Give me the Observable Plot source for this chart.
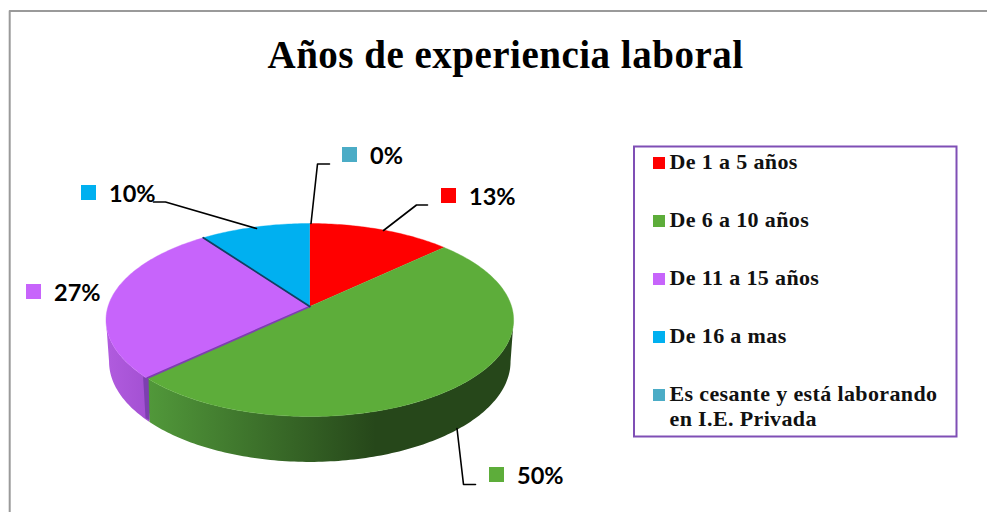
<!DOCTYPE html>
<html>
<head>
<meta charset="utf-8">
<style>html,body{margin:0;padding:0;background:#fff}svg{display:block}</style>
<script src="https://cdn.jsdelivr.net/npm/d3@7"></script>
<script src="https://cdn.jsdelivr.net/npm/@observablehq/plot@0.6"></script>
</head>
<body>
<script>
const categories = ["De 1 a 5 años", "De 6 a 10 años", "De 11 a 15 años", "De 16 a mas", "Es cesante y está laborando\nen I.E. Privada"];
const percents = [13, 50, 27, 10, 0];
const colors = ["#ff0000", "#5dad3a", "#c764fb", "#00b0f0", "#4bacc6"];
const percentLabels = ["13%", "50%", "27%", "10%", "0%"];

const W = 987, H = 512;
// pie projection
const cx = 309.3, cy = 306, rx = 201.8, ry = 94.6, persp = -0.14;
const rim = f => {
  const t = f * 2 * Math.PI, u = Math.sin(t), v = -Math.cos(t), d = 1 + persp * v;
  return [cx + rx * u / d, cy + ry * v / d];
};
const lowerRim = f => {
  const [x, y] = rim(f);
  return [cx + (x - cx) * 0.985, cy + (y - cy) * 1.04 + 41];
};
let acc = 0;
const slices = percents.map((p, i) => { const s = {i, start: acc / 100, end: (acc + p) / 100}; acc += p; return s; });

// top faces
const topPts = [];
for (const s of slices) {
  if (s.end <= s.start) continue;
  const n = Math.ceil((s.end - s.start) * 360);
  topPts.push({id: s.i, x: cx, y: cy, color: colors[s.i]});
  for (let k = 0; k <= n; k++) {
    const [x, y] = rim(s.start + (s.end - s.start) * k / n);
    topPts.push({id: s.i, x, y, color: colors[s.i]});
  }
}
// side walls: only the part facing the viewer, between the two silhouette points of the rim
const silhouette = Math.acos(persp) / (2 * Math.PI);
const sideWall = s => {
  const a = Math.max(s.start, silhouette), b = Math.min(s.end, 1 - silhouette);
  const n = Math.ceil((b - a) * 360), up = [], low = [];
  for (let k = 0; k <= n; k++) {
    const f = a + (b - a) * k / n;
    up.push(rim(f)); low.push(lowerRim(f));
  }
  return up.concat(low.reverse()).map(([x, y]) => ({x, y}));
};
const greenWall = sideWall(slices[1]), purpleWall = sideWall(slices[2]);
// gradient definitions for the walls
const gradient = (id, x1, x2, c1, c2) => () => {
  const defs = d3.create("svg:defs");
  const g = defs.append("linearGradient").attr("id", id).attr("gradientUnits", "userSpaceOnUse")
    .attr("x1", x1).attr("x2", x2).attr("y1", 0).attr("y2", 0);
  g.append("stop").attr("offset", 0).attr("stop-color", c1);
  g.append("stop").attr("offset", 1).attr("stop-color", c2);
  return defs.node();
};
// cut face at the purple / green boundary
const cut = rim(slices[1].end), cutLow = lowerRim(slices[1].end);
const cutFace = [[cut[0] - 4, cut[1] - 1], [cut[0] + 1.5, cut[1] + 1], [cutLow[0], cutLow[1] - 2], [cutLow[0] - 4, cutLow[1] - 4]].map(([x, y]) => ({x, y}));
// seams on the top face
const blueEdge = rim(slices[3].start);
const seams = [
  {id: "a", x: cx, y: cy, c: "#7d3fb0"}, {id: "a", x: cut[0], y: cut[1], c: "#7d3fb0"},
  {id: "b", x: cx, y: cy, c: "#123f63"}, {id: "b", x: blueEdge[0], y: blueEdge[1], c: "#123f63"}
];
// leader lines
const leaders = [
  {id: 0, pts: [[383, 230], [416, 204.5], [427, 204.5]]},
  {id: 1, pts: [[456.5, 428], [463, 484], [475, 484]]},
  {id: 3, pts: [[256, 228], [165, 201.5], [153, 201.5]]},
  {id: 4, pts: [[310.5, 223], [317, 163.5], [329, 163.5]]}
].flatMap(l => l.pts.map(([x, y]) => ({id: l.id, x, y})));
// data labels
const labelPos = [[441, 188], [489, 467], [26, 284], [81, 185], [342, 147]];
const labels = percentLabels.map((t, i) => ({t, i, x: labelPos[i][0], y: labelPos[i][1]}));
// legend
const legendY = [157, 215, 273, 331, 389];
const legend = categories.map((c, i) => ({c, i, y: legendY[i]}));

const labelFont = "Lato, Carlito, sans-serif";
const serif = "'Liberation Serif', serif";
const sharedLine = {x: "x", y: "y", z: "id", curve: "linear"};

const plot = Plot.plot({
  width: W, height: H, margin: 0,
  x: {domain: [0, W], range: [0, W], axis: null},
  y: {domain: [0, H], range: [0, H], axis: null},
  marks: [
    gradient("greenWall", 148, 375, "#51983a", "#26471a"),
    gradient("purpleWall", 108, 148, "#b05bde", "#a350d2"),
    Plot.line([{x: 9.2, y: 512}, {x: 9.2, y: 10.5}, {x: 987, y: 10.5}], {x: "x", y: "y", stroke: "#9a9a9a", strokeWidth: 2}),
    Plot.text(["Años de experiencia laboral"], {x: 505, y: 55, text: d => d, fontFamily: serif, fontWeight: "bold", fontSize: 39, fill: "#000", textAnchor: "middle", lineAnchor: "middle"}),
    Plot.line(purpleWall, {x: "x", y: "y", fill: "url(#purpleWall)", stroke: "none"}),
    Plot.line(greenWall, {x: "x", y: "y", fill: "url(#greenWall)", stroke: "none"}),
    Plot.line(cutFace, {x: "x", y: "y", fill: "#7d3fb0", stroke: "none"}),
    Plot.line(topPts, {...sharedLine, fill: "color", stroke: "color", strokeWidth: 0.4}),
    Plot.line(seams, {...sharedLine, stroke: "c", strokeWidth: 1.8}),
    Plot.line(leaders, {...sharedLine, stroke: "#000", strokeWidth: 1.6}),
    Plot.rect(labels, {x1: "x", x2: d => d.x + 15, y1: "y", y2: d => d.y + 15, fill: d => colors[d.i]}),
    Plot.text(labels, {x: d => d.x + 27.5, y: d => d.y + 16.5, text: "t", fontFamily: labelFont, fontWeight: "bold", fontSize: 23.5, fill: "#000", textAnchor: "start", lineAnchor: "bottom"}),
    Plot.rect([{}], {x1: () => 634, x2: () => 956.5, y1: () => 146.5, y2: () => 436.5, fill: "none", stroke: "#7f4fb5", strokeWidth: 2}),
    Plot.rect(legend, {x1: () => 653, x2: () => 665, y1: "y", y2: d => d.y + 12, fill: d => colors[d.i]}),
    Plot.text(legend, {x: () => 669, y: d => d.y - 6, text: "c", fontFamily: serif, fontWeight: "bold", fontSize: 22, lineHeight: 1.14, fill: "#111", textAnchor: "start", lineAnchor: "top"})
  ]
});
plot.querySelectorAll('g[font-size="39"]').forEach(g => g.style.letterSpacing = "0.5px");
plot.querySelectorAll('g[font-size="22"]').forEach(g => g.style.letterSpacing = "0.37px");
document.body.appendChild(plot);
</script>
</body>
</html>
